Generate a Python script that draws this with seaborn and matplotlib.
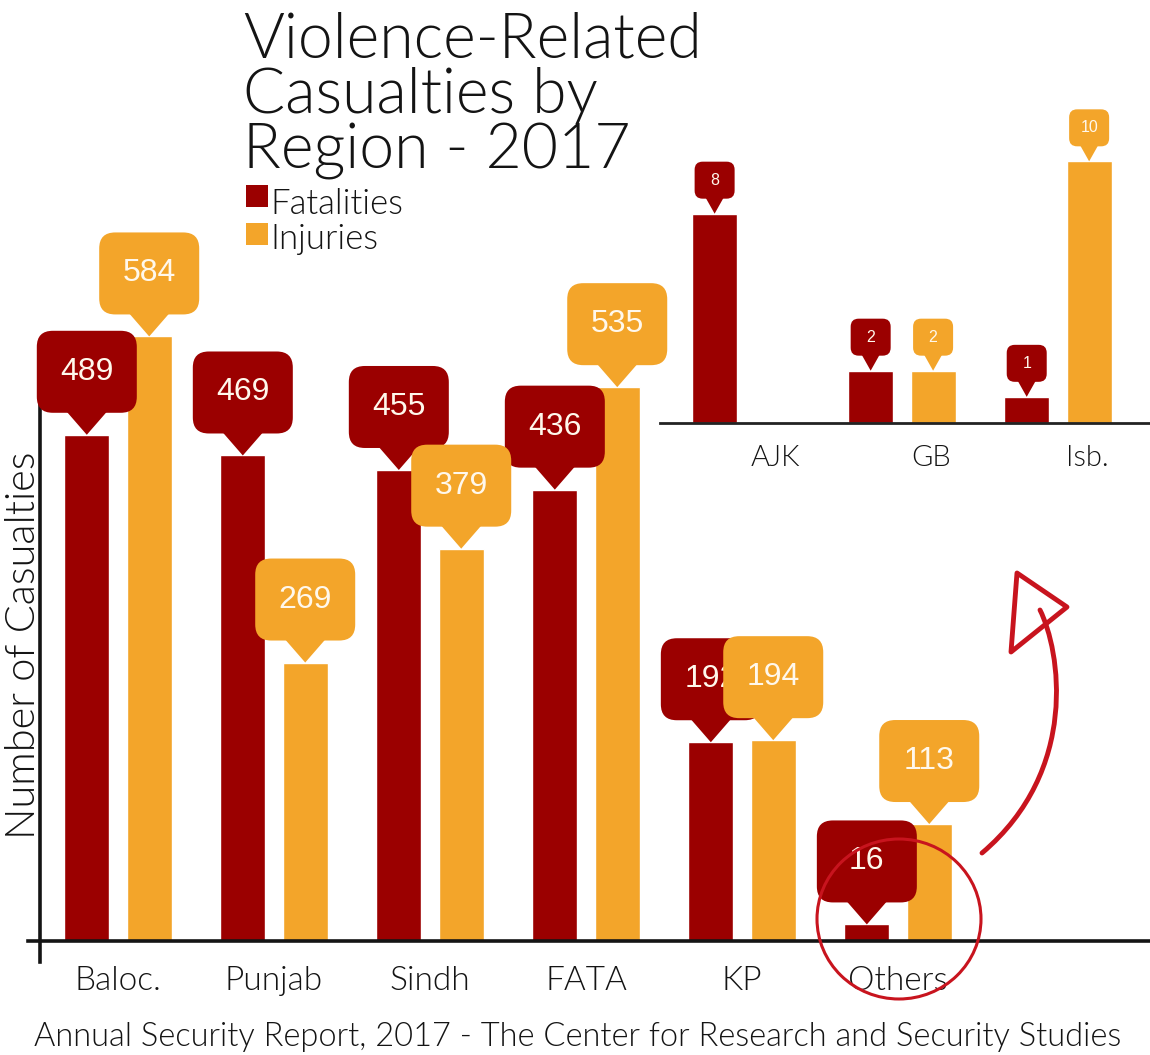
import numpy as np
import pandas as pd
import matplotlib
matplotlib.use("Agg")
import matplotlib.pyplot as plt
import matplotlib.transforms as mtransforms
from matplotlib.patches import FancyBboxPatch, Polygon, Ellipse, PathPatch, Rectangle
from matplotlib.path import Path
import seaborn as sns

# --- data ---
regions = ["Baloc.", "Punjab", "Sindh", "FATA", "KP", "Others"]
fatalities = [489, 469, 455, 436, 192, 16]
injuries = [584, 269, 379, 535, 194, 113]

small_regions = ["AJK", "GB", "Isb."]
small_fatalities = [8, 2, 1]
small_injuries = [0, 2, 10]

series = ["Fatalities", "Injuries"]

RED = "#9B0000"
ORANGE = "#F3A52A"
MARK = "#C8141E"
INK = "#141414"
FONT = ["Lato", "DejaVu Sans"]
LIGHT = 300  # Lato Light

sns.set_theme(style="white")
plt.rcParams["font.family"] = FONT

W, H = 1150, 1055
fig = plt.figure(figsize=(W / 100, H / 100), dpi=100)


def px(x, y):
    # pixel position (top-left origin) -> figure fraction
    return x / W, 1 - y / H


def long_frame(names, fat, inj):
    return pd.DataFrame({
        "region": names * 2,
        "count": fat + inj,
        "type": [series[0]] * len(names) + [series[1]] * len(names),
    })


def bubble(ax, x, y, label, color, w, h, th, tw, r, fs, z):
    # callout sized in pixels, tip sitting on the bar top (x, y)
    tr = fig.dpi_scale_trans + mtransforms.ScaledTranslation(x, y, ax.transData)
    s = 1 / 100
    box = FancyBboxPatch((-w / 2 * s + r * s, (th + r) * s), (w - 2 * r) * s, (h - 2 * r) * s,
                         boxstyle=f"round,pad={r * s},rounding_size={r * s}",
                         transform=tr, facecolor=color, edgecolor="none",
                         clip_on=False, zorder=z)
    tri = Polygon([(-tw / 2 * s, (th + 1) * s), (tw / 2 * s, (th + 1) * s), (0, 0)],
                  closed=True, transform=tr, facecolor=color, edgecolor="none",
                  clip_on=False, zorder=z)
    ax.add_patch(box)
    ax.add_patch(tri)
    ax.text(0, (th + h / 2) * s, label, transform=tr, ha="center", va="center",
            color="#FFF8EC", fontsize=fs, family=["Liberation Sans", "DejaVu Sans"],
            zorder=z + 0.5, clip_on=False)


# --- main chart ---
ax = fig.add_axes([40 / W, 114 / H, (W - 40) / W, 941 / H])
sns.barplot(data=long_frame(regions, fatalities, injuries), x="region", y="count",
            hue="type", palette=[RED, ORANGE], saturation=1, width=0.8, gap=0.28,
            legend=False, ax=ax)
ax.set_xlim(-0.5, 6.615)
ax.set_ylim(0, 909)
ax.set_facecolor("none")
ax.set_xlabel("")
ax.set_ylabel("")
ax.set_yticks([])
ax.tick_params(axis="x", length=0, pad=18, labelsize=24, labelcolor=INK)
for lab in ax.get_xticklabels():
    lab.set_fontweight(LIGHT)
for sp in ["top", "right"]:
    ax.spines[sp].set_visible(False)
ax.spines["left"].set_bounds(-20, 532)
ax.spines["bottom"].set_bounds(-0.58, 6.615)
for sp in ["left", "bottom"]:
    ax.spines[sp].set_color(INK)
    ax.spines[sp].set_linewidth(2.6)

for k, (cont, color) in enumerate(zip(ax.containers, [RED, ORANGE])):
    for bar in cont:
        v = bar.get_height()
        if v > 0:
            bubble(ax, bar.get_x() + bar.get_width() / 2, v, f"{v:.0f}", color,
                   100, 82, 22, 40, 16, 23, 5 + 2 * k)

fig.text(*px(24, 645), "Number of Casualties", rotation=90, ha="center", va="center",
         fontsize=30, color=INK, fontweight=LIGHT)

# --- inset for the small regions ---
ax2 = fig.add_axes([660 / W, 632 / H, 490 / W, 314 / H])
sns.barplot(data=long_frame(small_regions, small_fatalities, small_injuries), x="region",
            y="count", hue="type", palette=[RED, ORANGE], saturation=1, width=0.8, gap=0.28,
            legend=False, ax=ax2)
ax2.set_xlim(-0.55, 2.59)
ax2.set_ylim(0, 12)
ax2.set_facecolor("none")
ax2.set_xlabel("")
ax2.set_ylabel("")
ax2.set_yticks([])
ax2.set_xticks(np.arange(len(small_regions)) + 0.19)
ax2.set_xticklabels(small_regions, fontweight=LIGHT)
ax2.tick_params(axis="x", length=0, pad=16, labelsize=21, labelcolor=INK)
for sp in ["top", "right", "left"]:
    ax2.spines[sp].set_visible(False)
ax2.spines["bottom"].set_color("#222222")
ax2.spines["bottom"].set_linewidth(2)

for k, (cont, color) in enumerate(zip(ax2.containers, [RED, ORANGE])):
    for bar in cont:
        v = bar.get_height()
        if v > 0:
            bubble(ax2, bar.get_x() + bar.get_width() / 2, v, f"{v:.0f}", color,
                   40, 37, 15, 18, 8, 11.5, 5 + 2 * k)

# --- title and legend ---
title_lines = ["Violence-Related", "Casualties by", "Region - 2017"]
for i, line in enumerate(title_lines):
    fig.text(*px(243, 58 + i * 55), line, ha="left", va="baseline", fontsize=45,
             color=INK, fontweight=LIGHT)

for i, (name, color) in enumerate(zip(series, [RED, ORANGE])):
    x0, y0 = px(246, 207 + i * 38)
    fig.add_artist(Rectangle((x0, y0), 22 / W, 22 / H, transform=fig.transFigure,
                             facecolor=color, edgecolor="none"))
    fig.text(*px(270, 214 + i * 35), name, ha="left", va="baseline", fontsize=25,
             color=INK, fontweight=LIGHT)

# --- highlight circle and hand-drawn arrow ---
cx, cy = px(899, 919)
fig.add_artist(Ellipse((cx, cy), 164 / W, 160 / H, transform=fig.transFigure,
                       facecolor="none", edgecolor=MARK, linewidth=2.2, zorder=10))

curve = Path([px(982, 853), px(1080, 770), px(1060, 650), px(1040, 610)],
             [Path.MOVETO, Path.CURVE4, Path.CURVE4, Path.CURVE4])
fig.add_artist(PathPatch(curve, transform=fig.transFigure, facecolor="none",
                         edgecolor=MARK, linewidth=3.5, capstyle="round", zorder=10))
fig.add_artist(Polygon([px(1017, 573), px(1067, 607), px(1011, 652)], closed=True,
                       transform=fig.transFigure, facecolor="none", edgecolor=MARK,
                       linewidth=3.5, joinstyle="round", zorder=10))

# --- source line ---
fig.text(*px(578, 1046), "Annual Security Report, 2017 - The Center for Research and Security Studies",
         ha="center", va="baseline", fontsize=23.5, color=INK, fontweight=LIGHT)

fig.savefig("out.png", dpi=100, facecolor="white")
